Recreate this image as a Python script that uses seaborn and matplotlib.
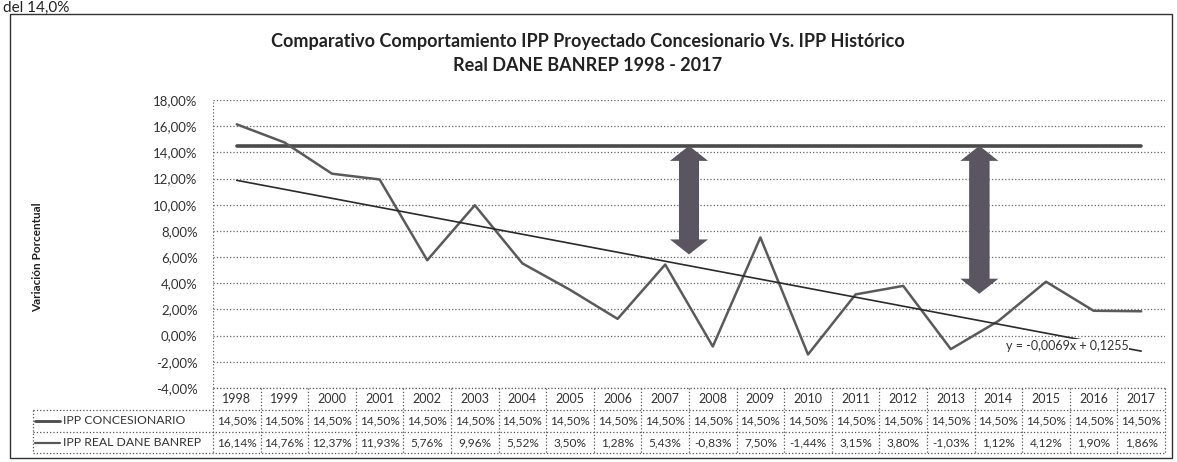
import numpy as np
import pandas as pd
import matplotlib
matplotlib.use('Agg')
import matplotlib.pyplot as plt
import matplotlib.transforms as mtransforms
from matplotlib.patches import Rectangle
import seaborn as sns

# data
years = [str(y) for y in range(1998, 2018)]
ipp_concesionario = [14.50] * 20
ipp_real = [16.14, 14.76, 12.37, 11.93, 5.76, 9.96, 5.52, 3.50, 1.28, 5.43,
            -0.83, 7.50, -1.44, 3.15, 3.80, -1.03, 1.12, 4.12, 1.90, 1.86]
y_ticks = list(range(-4, 20, 2))
arrow_x = [9.5, 15.6]        # between 2007/2008 and 2013/2014
arrow_low = [6.2, 3.2]

sns.set_style('white')
plt.rcParams['font.family'] = ['Lato', 'DejaVu Sans']

W, H = 1177, 462
fig = plt.figure(figsize=(W / 100, H / 100), dpi=100)
ax = fig.add_axes([213 / W, 1 - 388 / H, 952 / W, 288 / H])

df = pd.DataFrame({'idx': range(len(years)), 'year': years,
                   'conc': ipp_concesionario, 'real': ipp_real})

sns.lineplot(data=df, x='idx', y='conc', ax=ax, color='#4a4a4a', lw=2.6)
sns.lineplot(data=df, x='idx', y='real', ax=ax, color='#5a5a5a', lw=1.8)
sns.regplot(data=df, x='idx', y='real', ax=ax, scatter=False, ci=None,
            truncate=True, line_kws=dict(color='#2b2b2b', lw=1.2))

# double arrows
for x, low in zip(arrow_x, arrow_low):
    hl = 1.15
    ax.arrow(x, low + hl, 0, 14.5 - low - hl, width=0.42, head_width=0.8,
             head_length=hl, length_includes_head=True, fc='#5b5461', ec='none', zorder=5)
    ax.arrow(x, 14.5 - hl, 0, -(14.5 - low - hl), width=0.42, head_width=0.8,
             head_length=hl, length_includes_head=True, fc='#5b5461', ec='none', zorder=5)

ax.text(16.15, -0.8, 'y = -0,0069x + 0,1255', fontsize=9, va='center', ha='left', color='#333',
        bbox=dict(fc='white', ec='none', pad=0.5), zorder=4)

ax.set_xlim(-0.5, 19.5)
ax.set_ylim(-4, 18)
ax.set_yticks(y_ticks)
ax.set_yticklabels([f'{v:.2f}%'.replace('.', ',') for v in y_ticks], fontsize=9.5, color='#333')
ax.set_xticks([])
ax.set_xlabel('')
ax.set_ylabel('')
ax.tick_params(axis='y', length=0, pad=11)
ax.yaxis.grid(True, ls=':', color='#666', lw=0.9)
for s in ax.spines.values():
    s.set_visible(False)
ax.axvline(-0.5, ls=':', color='#666', lw=0.9)

# data table under the plot
trans = mtransforms.blended_transform_factory(ax.transData, ax.transAxes)
b = [0, -22 / 288, -44 / 288, -65 / 288]
x_leg = (33 - 213) / 47.6 - 0.5
grid_kw = dict(ls=':', color='#555', lw=0.9, transform=trans, clip_on=False)
ax.plot([-0.5, 19.5], [b[0], b[0]], **grid_kw)
for yy in b[1:]:
    ax.plot([x_leg, 19.5], [yy, yy], **grid_kw)
for i in range(21):
    ax.plot([i - 0.5, i - 0.5], [b[0], b[3]], **grid_kw)
ax.plot([x_leg, x_leg], [b[1], b[3]], **grid_kw)

for i, yr in enumerate(years):
    ax.text(i, (b[0] + b[1]) / 2, yr, transform=trans, ha='center', va='center', fontsize=9, color='#333')
    ax.text(i, (b[1] + b[2]) / 2, f'{ipp_concesionario[i]:.2f}%'.replace('.', ','), transform=trans,
            ha='center', va='center', fontsize=8.6, color='#333')
    ax.text(i, (b[2] + b[3]) / 2, f'{ipp_real[i]:.2f}%'.replace('.', ','), transform=trans,
            ha='center', va='center', fontsize=8.6, color='#333')

key_x0 = (35 - 213) / 47.6 - 0.5
key_x1 = (60 - 213) / 47.6 - 0.5
lab_x = (63 - 213) / 47.6 - 0.5
for (yy, name, col, lw) in [((b[1] + b[2]) / 2, 'IPP CONCESIONARIO', '#4a4a4a', 2.0),
                            ((b[2] + b[3]) / 2, 'IPP REAL DANE BANREP', '#5a5a5a', 1.6)]:
    ax.plot([key_x0, key_x1], [yy, yy], color=col, lw=lw, transform=trans, clip_on=False)
    ax.text(lab_x, yy, name, transform=trans, ha='left', va='center', fontsize=8.8, color='#333')

# titles and labels
fig.text(588 / W, 1 - 42 / H, 'Comparativo Comportamiento IPP Proyectado Concesionario Vs. IPP Histórico',
         ha='center', va='center', fontsize=13, weight='bold', color='#222')
fig.text(588 / W, 1 - 65 / H, 'Real DANE BANREP 1998 - 2017',
         ha='center', va='center', fontsize=13, weight='bold', color='#222')
fig.text(38 / W, 1 - 257 / H, 'Variación Porcentual', rotation=90, ha='center', va='center',
         fontsize=8.5, weight='bold', color='#222')
fig.text(3 / W, 1 - 12 / H, 'del 14,0%', ha='left', va='baseline', fontsize=11, color='#222')

fig.add_artist(Rectangle((10 / W, 1 - 458 / H), 1162 / W, 444 / H, fill=False,
                         ec='#333', lw=1.0, transform=fig.transFigure))

fig.savefig('out.png', dpi=100)
